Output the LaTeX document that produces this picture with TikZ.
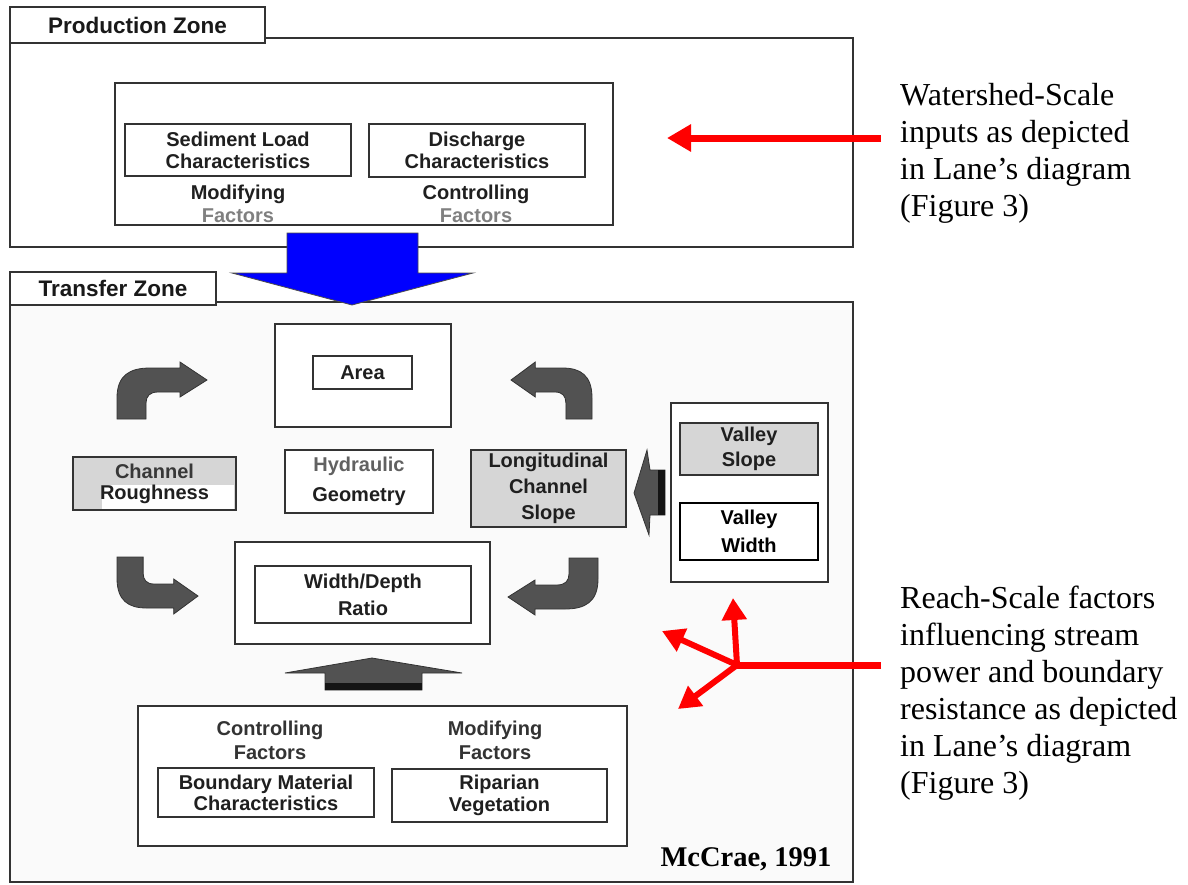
\documentclass[tikz,border=0pt]{standalone}
\usepackage{fontspec}
\setmainfont{Liberation Serif}
\newfontfamily\diagfont{Liberation Sans}
\usetikzlibrary{arrows.meta}
\tikzset{
  box/.style={draw=black!80, line width=1.4pt, inner sep=0pt, outer sep=0pt},
  gbox/.style={box, fill=black!16},
  lbl/.style={font=\diagfont\bfseries\fontsize{20}{#1}\selectfont, align=center, text=black!88},
  lbl/.default=23,
  plain/.style={inner sep=0pt, font=\diagfont\bfseries\fontsize{20}{23}\selectfont, text=black!88},
  faded/.style={plain, text=black!50},
  tabbox/.style={box, fill=white, font=\diagfont\bfseries\fontsize{22.5}{26}\selectfont, text=black!90},
  blockarrow/.style={fill=black!68, draw=black!80, line width=0.8pt},
  redarrow/.style={draw=red, line width=7pt, -{Triangle[length=24pt,width=26pt]}},
  note/.style={font=\fontsize{32}{37}\selectfont, align=left, anchor=north west, inner sep=0pt},
  bentarrow/.pic={\path[blockarrow] (0,0) -- (0,-21) .. controls (0,-44) and (13,-51) .. (33,-51) -- (63,-51) -- (63,-57) -- (90,-39) -- (63,-22) -- (63,-27) -- (41,-27) .. controls (33,-27) and (29,-23) .. (29,-16) -- (29,0) -- cycle;}
}
\begin{document}
\begin{tikzpicture}[x=1pt,y=-1pt]
\useasboundingbox (0,0) rectangle (1188,884);
\fill[white] (0,0) rectangle (1188,884);

% ---------------- Production zone
\node[box, fill=white, minimum width=843, minimum height=209] (prod) at (431.5,142.5) {};
\node[tabbox, minimum width=255, minimum height=36] (prodtab) at (137.5,25) {Production Zone};
\node[box, minimum width=498, minimum height=142] (prodin) at (364,154) {};
\node[box, lbl=22, minimum width=226, minimum height=52] (sed) at (238,150) {Sediment Load\\Characteristics};
\node[box, lbl=22, minimum width=216, minimum height=53] (dis) at (477,150.5) {Discharge\\Characteristics};
\node[plain] (modA) at (238,194) {Modifying};
\node[faded] (facA) at (238,216) {Factors};
\node[plain] (conA) at (476,194) {Controlling};
\node[faded] (facB) at (476,216) {Factors};

% ---------------- Transfer zone
\node[box, fill=black!2, minimum width=843, minimum height=580, line width=1.8pt] (trans) at (431.5,592) {};
\node[tabbox, minimum width=206, minimum height=33] (transtab) at (113,288.5) {Transfer Zone};

% blue arrow from production to transfer zone
\path[fill={rgb,255:red,0;green,0;blue,255}, draw=black!70, line width=0.8pt]
  (287,233) -- (418,233) -- (418,273) -- (473,273) -- (352,305) -- (232,273) -- (287,273) -- cycle;

% Area
\node[box, fill=white, minimum width=176, minimum height=103] (areaout) at (363,375.5) {};
\node[box, lbl, minimum width=99, minimum height=33] (area) at (362.5,372.5) {Area};

% Channel roughness
\node[gbox, minimum width=163, minimum height=53] (rough) at (154.5,483.5) {};
\fill[white] (102,485) rectangle (234,509);
\node[lbl=21] (roughtxt) at (rough.center) {{\color{black!78}Channel}\\Roughness};

% Hydraulic geometry
\node[box, fill=white, lbl=30, minimum width=148, minimum height=63] (hyd) at (359,481.5) {{\color{black!62}Hydraulic}\\Geometry};

% Width/Depth
\node[box, fill=white, minimum width=255, minimum height=102] (wdout) at (362.5,593) {};
\node[box, lbl=27, minimum width=216, minimum height=57] (wd) at (363,594.5) {Width/Depth\\Ratio};

% Longitudinal channel slope
\node[gbox, lbl=26, minimum width=155, minimum height=77] (longi) at (548.5,488.5) {Longitudinal\\Channel\\Slope};

% Valley box
\node[box, fill=white, minimum width=157, minimum height=179] (valout) at (749.5,492.5) {};
\node[gbox, lbl=25, minimum width=138, minimum height=52] (vslope) at (749,449) {Valley\\Slope};
\node[box, draw=black, line width=2.6pt, fill=white, lbl=28, text=black, minimum width=138, minimum height=57] (vwidth) at (749,531.5) {Valley\\Width};

% bent arrows
\pic at (117,419) {bentarrow};
\pic[xscale=-0.9] at (592,419) {bentarrow};
\pic[xscale=0.9, yscale=-1] at (117,557) {bentarrow};
\pic[xscale=-1, yscale=-1] at (598,558) {bentarrow};

% arrow from valley box to longitudinal slope
\path[blockarrow] (647,450) -- (650,470) -- (665,470) -- (665,515) -- (650,515) -- (649,535) -- (634,493) -- cycle;
\fill[black!92] (658,470) rectangle (665,515);

% up arrow to width/depth
\path[blockarrow] (325,690) -- (325,673) -- (285,673) -- (372,658) -- (462,673) -- (422,673) -- (422,690) -- cycle;
\fill[black!92] (325,683) rectangle (422,690);

% bottom factors
\node[box, fill=white, minimum width=489, minimum height=140] (botout) at (382.5,776) {};
\node[plain, text=black!80] (conB) at (270,730) {Controlling};
\node[plain, text=black!80] (facC) at (270,753) {Factors};
\node[plain, text=black!80] (modB) at (495,730) {Modifying};
\node[plain, text=black!80] (facD) at (495,753) {Factors};
\node[box, lbl=21, minimum width=216, minimum height=49] (bmat) at (266,792.5) {Boundary Material\\Characteristics};
\node[box, lbl=22, minimum width=215, minimum height=53] (ripar) at (499.5,795.5) {Riparian\\Vegetation};

\node[inner sep=0pt, font=\bfseries\fontsize{28.5}{32}\selectfont] (cite) at (746,859) {McCrae, 1991};

% ---------------- red annotation arrows
\coordinate (rtop) at (881,138);
\coordinate (rtopend) at (667,138);
\draw[redarrow] (rtop) -- (rtopend);

\coordinate (rstart) at (881,665);
\coordinate (rj) at (737,665);
\coordinate (rup) at (733,598);
\coordinate (rul) at (662,631);
\coordinate (rdl) at (678,709);
\draw[red, line width=7pt] (rstart) -- (rj);
\draw[redarrow, line width=6pt, -{Triangle[length=22pt,width=24pt]}] (rj) -- (rup);
\draw[redarrow, line width=6pt, -{Triangle[length=22pt,width=24pt]}] (rj) -- (rul);
\draw[redarrow, line width=6pt, -{Triangle[length=22pt,width=24pt]}] (rj) -- (rdl);
\fill[red] (rj) circle (3.5pt);

% ---------------- notes
\node[note] (note1) at (900,83) {Watershed-Scale\\inputs as depicted\\in Lane’s diagram\\(Figure 3)};
\node[note] (note2) at (900,586) {Reach-Scale factors\\influencing stream\\power and boundary\\resistance as depicted\\in Lane’s diagram\\(Figure 3)};
\end{tikzpicture}
\end{document}
